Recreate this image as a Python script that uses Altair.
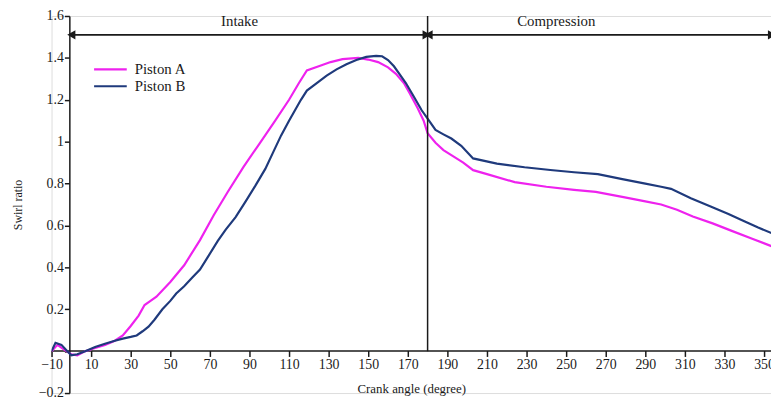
import altair as alt
import pandas as pd

# ---- data ----
a_deg = [-10, -7, -4, 0, 3, 7, 12, 17, 22, 26, 30, 34, 37, 40, 43, 50, 57, 65, 72, 79, 87, 95,
         103, 110, 115, 119, 125, 131, 137, 145, 150, 155, 160, 164, 168, 171, 175, 178, 180,
         184, 188, 193, 198, 203, 210, 224, 240, 254, 265, 279, 290, 298, 306, 314, 324, 334,
         344, 354]
a_val = [0.0, 0.03, 0.01, -0.015, -0.02, 0.0, 0.015, 0.03, 0.05, 0.075, 0.12, 0.17, 0.22, 0.24,
         0.26, 0.33, 0.41, 0.53, 0.65, 0.76, 0.88, 0.99, 1.10, 1.20, 1.28, 1.34, 1.36, 1.38,
         1.394, 1.40, 1.392, 1.38, 1.355, 1.324, 1.28, 1.23, 1.16, 1.10, 1.04, 0.995, 0.96,
         0.93, 0.90, 0.864, 0.845, 0.807, 0.785, 0.77, 0.76, 0.735, 0.715, 0.70, 0.675, 0.643,
         0.61, 0.573, 0.537, 0.50]

b_deg = [-10, -8, -5, -2, 0, 3, 7, 12, 17, 22, 26, 30, 33, 36, 39, 42, 46, 50, 53, 57, 61, 65,
         69, 74, 78, 83, 88, 93, 98, 102, 106, 110, 113, 116, 119, 124, 129, 134, 139, 144,
         149, 154, 157, 160, 163, 166, 169, 173, 177, 180, 184, 188, 192, 197, 203, 215, 229,
         242, 254, 266, 279, 290, 298, 303, 313, 323, 332, 340, 347, 354]
b_val = [0.0, 0.04, 0.03, 0.0, -0.02, -0.015, 0.0, 0.02, 0.035, 0.05, 0.06, 0.068, 0.075, 0.095,
         0.117, 0.15, 0.20, 0.24, 0.275, 0.31, 0.35, 0.39, 0.45, 0.526, 0.58, 0.64, 0.714,
         0.79, 0.87, 0.95, 1.03, 1.10, 1.15, 1.20, 1.244, 1.28, 1.315, 1.345, 1.37, 1.39,
         1.405, 1.41, 1.408, 1.39, 1.36, 1.32, 1.28, 1.216, 1.15, 1.11, 1.056, 1.035, 1.015,
         0.98, 0.92, 0.895, 0.878, 0.865, 0.854, 0.845, 0.82, 0.80, 0.785, 0.775, 0.73,
         0.69, 0.655, 0.62, 0.59, 0.563]

series_names = ["Piston A", "Piston B"]
series_colors = ["#ee22ee", "#1f3a7c"]

x_ticks = [-10, 10, 30, 50, 70, 90, 110, 130, 150, 170, 190, 210, 230, 250, 270, 290, 310, 330, 350]
y_ticks = [-0.2, 0, 0.2, 0.4, 0.6, 0.8, 1.0, 1.2, 1.4, 1.6]

phase_names = ["Intake", "Compression"]
phase_start = [0, 180.5]
phase_end = [179.5, 354]
phase_label_x = [85, 245]
arrow_y = 1.51
label_y = 1.578
tdc_angle = 180

X_DOMAIN = [-10, 353.5]
Y_DOMAIN = [-0.2, 1.6]
FONT = "Liberation Serif, Times New Roman, DejaVu Serif, serif"
INK = "#1a1a1a"

# ---- tables ----
curves = pd.concat([
    pd.DataFrame({"deg": a_deg, "val": a_val, "series": series_names[0]}),
    pd.DataFrame({"deg": b_deg, "val": b_val, "series": series_names[1]}),
])
phases = pd.DataFrame({"name": phase_names, "start": phase_start, "end": phase_end,
                       "lx": phase_label_x, "ay": arrow_y, "ly": label_y})
heads = pd.DataFrame({
    "x": phase_start + phase_end,
    "y": [arrow_y] * 4,
    "shape": ["triangle-left", "triangle-left", "triangle-right", "triangle-right"],
    "off": [5, 5, -5, -5],
})
vline = pd.DataFrame({"x": [tdc_angle], "y": [0], "y2": [Y_DOMAIN[1]]})
legend_df = pd.DataFrame({"series": series_names})

xs = alt.Scale(domain=X_DOMAIN, nice=False, zero=False)
ys = alt.Scale(domain=Y_DOMAIN, nice=False, zero=False)
cs = alt.Scale(domain=series_names, range=series_colors)

lines = alt.Chart(curves).mark_line(strokeWidth=2.2, clip=True).encode(
    x=alt.X("deg:Q", scale=xs, axis=alt.Axis(
        values=x_ticks, title="Crank angle (degree)", offset=-43, grid=False,
        labelFont=FONT, labelFontSize=14, labelColor=INK, titleFont=FONT,
        titleFontSize=13, titleFontWeight="normal", titleColor=INK, titlePadding=11,
        tickSize=6, domainColor=INK, tickColor=INK, domainWidth=1.5, tickWidth=1.5,
        labelFlush=False, labelPadding=1)),
    y=alt.Y("val:Q", scale=ys, axis=alt.Axis(
        values=y_ticks, title="Swirl ratio", offset=-18, grid=False,
        labelExpr="datum.value == 0 ? '' : format(datum.value, '~g')",
        labelFont=FONT, labelFontSize=14, labelColor=INK, titleFont=FONT,
        titleFontSize=12, titleFontWeight="normal", titleColor=INK, titlePadding=14,
        tickSize=5, domainColor=INK, tickColor=INK, domainWidth=1.5, tickWidth=1.5,
        labelFlush=False, labelPadding=1)),
    color=alt.Color("series:N", scale=cs, legend=None),
    order="deg:Q",
)

# legend drawn as marks (pixel placement inside the plot), one row per series
legend_layers = []
for i, name in enumerate(series_names):
    row_y = 54 + 17 * i
    base = alt.Chart(legend_df).transform_filter(alt.datum.series == name)
    legend_layers.append(base.mark_rule(strokeWidth=2.2).encode(
        x=alt.value(43), x2=alt.value(76), y=alt.value(row_y),
        color=alt.Color("series:N", scale=cs, legend=None)))
    legend_layers.append(base.mark_text(
        font=FONT, fontSize=15, color=INK, align="left", baseline="middle").encode(
        x=alt.value(84), y=alt.value(row_y), text="series:N"))

rule_v = alt.Chart(vline).mark_rule(color=INK, strokeWidth=1.5).encode(
    x=alt.X("x:Q", scale=xs), y=alt.Y("y:Q", scale=ys), y2="y2:Q")

arrows = alt.Chart(phases).mark_rule(color=INK, strokeWidth=1.8).encode(
    x=alt.X("start:Q", scale=xs), x2="end:Q", y=alt.Y("ay:Q", scale=ys))

arrow_heads = alt.Chart(heads).mark_point(filled=True, color=INK, size=90, opacity=1).encode(
    x=alt.X("x:Q", scale=xs), y=alt.Y("y:Q", scale=ys),
    shape=alt.Shape("shape:N", scale=None), xOffset=alt.XOffset("off:Q", scale=None))

labels = alt.Chart(phases).mark_text(font=FONT, fontSize=15, color=INK).encode(
    x=alt.X("lx:Q", scale=xs), y=alt.Y("ly:Q", scale=ys), text="name:N")

chart = alt.layer(lines, rule_v, arrows, arrow_heads, labels, *legend_layers).properties(
    width=727, height=381,
    autosize=alt.AutoSizeParams(type="none"),
    padding={"left": 44, "top": 6, "right": 0, "bottom": 10},
).configure_view(stroke=None).configure(background="white")

chart.save("out.html", embed_options={"renderer": "svg", "actions": False})
